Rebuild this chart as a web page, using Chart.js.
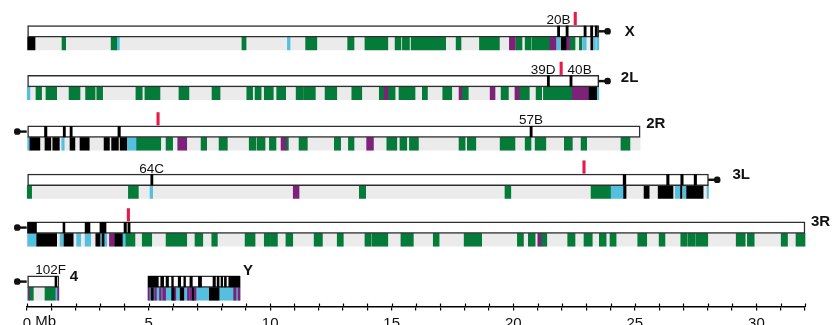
<!DOCTYPE html>
<html><head><meta charset="utf-8">
<script src="https://cdn.jsdelivr.net/npm/chart.js@4/dist/chart.umd.min.js"></script>
<style>html,body{margin:0;padding:0;background:#fff}#wrap{width:835px;height:325px}</style>
</head><body><div id="wrap"><canvas id="c" width="835" height="325"></canvas></div>
<script>
// ---------------- DATA (Mb) ----------------
const chromosomes = ['X','2L','2R','3L','3R','4','Y'];
const chromStart = [0,0,0,0,0,0,4.98];
const chromEnd = [23.52,23.52,25.22,28.03,32.0,1.31,8.76];
const centromereSide = ['right','right','left','right','left','left','none'];

const greenSegments = {
  'X': [[1.44,1.59],[3.46,3.69],[8.84,9.01],[11.46,11.92],[13.19,13.45],[13.90,14.84],[15.14,15.38],[15.44,15.73],[15.80,17.22],[17.65,17.85],[18.61,19.43],[20.12,20.36],[20.49,20.73],[20.77,21.51],[22.31,22.54],[22.72,22.82]],
  '2L': [[0.37,0.60],[0.78,1.22],[1.73,2.18],[2.41,2.80],[2.87,3.11],[4.48,4.74],[4.85,5.47],[6.25,6.66],[7.61,7.94],[9.04,9.28],[9.38,9.63],[9.76,10.13],[10.27,10.64],[11.07,11.37],[11.39,11.86],[12.26,12.74],[13.36,13.77],[14.49,14.69],[14.84,15.14],[15.30,15.96],[16.26,16.47],[17.10,17.47],[17.88,18.15],[19.50,19.80],[20.25,20.66],[20.94,21.17],[21.24,22.43]],
  '2R': [[4.51,5.50],[5.72,5.99],[7.16,7.39],[7.90,8.24],[9.14,9.42],[9.47,9.79],[9.97,10.24],[10.65,10.75],[11.19,11.53],[12.64,12.90],[13.22,13.45],[14.80,15.21],[15.34,15.62],[15.73,16.10],[17.77,18.02],[18.11,18.46],[19.46,20.07],[20.49,20.73],[20.90,21.34],[22.10,22.43],[22.79,23.02],[24.43,24.80]],
  '3L': [[0.01,0.19],[4.17,4.58],[13.67,13.93],[19.66,19.90],[23.20,24.00]],
  '3R': [[4.07,4.44],[4.74,5.13],[5.72,6.57],[6.91,7.23],[7.60,7.83],[8.97,9.38],[9.76,10.02],[10.04,10.30],[10.65,10.93],[11.81,12.15],[12.76,13.01],[13.90,14.14],[14.18,14.84],[15.38,15.89],[16.71,16.95],[17.98,18.70],[20.17,20.42],[20.62,20.90],[21.14,21.38],[22.24,22.54],[22.91,23.25],[23.54,23.82],[23.98,24.23],[25.12,25.49],[26.00,26.24],[26.89,27.16],[27.20,27.48],[27.51,28.00],[29.17,29.54],[29.63,29.91],[31.02,31.28],[31.63,32.00]],
  '4': [[0.09,0.26],[0.74,1.16]],
  'Y': []
};
const purpleSegments = {
  'X': [[19.84,20.09],[21.51,21.76],[22.17,22.31]],
  '2L': [[14.69,14.84],[17.77,17.88],[19.05,19.25],[20.07,20.25],[22.43,23.12]],
  '2R': [[6.20,6.57],[10.45,10.65],[13.97,14.25]],
  '3L': [[10.95,11.19]],
  '3R': [[3.39,3.62],[21.01,21.14]],
  '4': [[0.05,0.09],[1.26,1.31]],
  'Y': [[4.98,5.03],[5.25,5.32],[5.45,5.52],[5.58,5.70],[6.05,6.12],[6.60,6.68],[6.72,6.78],[6.85,6.95],[8.50,8.60],[8.68,8.76]]
};
const blueSegments = {
  'X': [[3.69,3.80],[10.71,10.82],[21.79,21.93],[22.86,23.00],[23.30,23.38],[23.43,23.52]],
  '2L': [[0.01,0.12],[23.43,23.52]],
  '2R': [[0.03,0.12],[1.43,1.53],[4.10,4.51]],
  '3L': [[5.06,5.17],[24.00,24.54],[26.66,26.86],[26.98,27.11],[27.97,28.03]],
  '3R': [[0,0.39],[1.36,1.49],[2.04,2.21],[2.39,2.62],[3.00,3.09],[3.17,3.28],[3.92,4.07]],
  '4': [[0,0.05],[1.16,1.26]],
  'Y': [[4.98,8.76]]
};
const blackSegments = {
  'X': [[0,0.33],[21.97,22.17],[23.19,23.27]],
  '2L': [[23.12,23.43]],
  '2R': [[0.12,0.53],[0.74,0.98],[1.06,1.33],[1.77,1.97],[2.18,2.56],[3.17,3.39],[3.48,3.76],[3.83,4.10]],
  '3L': [[24.54,24.64],[25.38,25.59],[25.96,26.57],[26.88,26.94],[27.13,27.81]],
  '3R': [[0.40,1.22],[1.52,1.90],[2.83,3.00],[3.09,3.17],[3.62,3.92]],
  '4': [],
  'Y': [[5.10,5.20],[5.95,6.05],[6.30,6.45],[6.80,6.85],[7.50,7.90]]
};
// cytological band marks drawn inside the chromosome outline
const boxBands = {
  'X': [[21.82,21.91],[22.17,22.26],[22.91,23.00],[23.18,23.27],[23.37,23.46]],
  '2L': [[21.40,21.49],[22.33,22.42]],
  '2R': [[0.72,0.82],[1.49,1.58],[1.77,1.86],[3.74,3.84],[20.69,20.78]],
  '3L': [[5.09,5.18],[24.52,24.63],[26.31,26.41],[26.89,26.99],[27.44,27.54]],
  '3R': [[0,0.39],[1.48,1.56],[2.39,2.59],[3.00,3.25],[3.99,4.09],[4.15,4.24]],
  '4': [[1.15,1.22]],
  'Y': [[4.98,5.40],[5.50,5.62],[5.72,5.82],[5.95,6.02],[6.22,6.32],[6.45,6.52],[6.70,6.80],[7.05,7.18],[7.65,7.75],[7.82,7.90],[7.98,8.05],[8.12,8.20],[8.30,8.76]]
};
const bandLabelChrom = ['X','2L','2L','2R','3L','4'];
const bandLabelText = ['20B','39D','40B','57B','64C','102F'];
const bandLabelPos = [21.86,21.23,22.73,20.73,5.13,0.97];
const redMarkChrom = ['X','2L','2R','3L','3R'];
const redMarkPos = [22.55,21.97,5.39,22.91,4.17];

// ---------------- LAYOUT / STYLE ----------------
const rowTop = {'X':25.5,'2L':75.3,'2R':125.8,'3L':174,'3R':221.8,'4':275.8,'Y':275.8};
const BOX_H = 11.6, TRACK_H = 12.8;
const boxY = c => rowTop[c] + BOX_H/2;
const trackY = c => rowTop[c] + BOX_H + TRACK_H/2;
const labelLayout = {'X':{dx:26,y:32},'2L':{dx:22,y:77.5},'2R':{dx:6,y:124.3},'3L':{dx:24,y:175},'3R':{dx:6,y:221.7},'4':{dx:11,y:277},'Y':{dx:3,y:271}};
const COLORS = {green:'#047b38', purple:'#7c2278', blue:'#55bfdf', black:'#000000', gray:'#ebebeb', red:'#e6194b', border:'#2e2e2e'};
const FONT = '"Liberation Sans", Arial, sans-serif';
const STALK = 0.36, DOT = 0.24, TICK_LEN = 3.5, TICK_PAD = 4;

function segs(obj, yf) {
  const out = [];
  chromosomes.forEach(c => (obj[c] || []).forEach(s => out.push({x:[s[0], s[1]], y: yf(c)})));
  return out;
}
const full = {}; chromosomes.forEach((c,i) => full[c] = [[chromStart[i], chromEnd[i]]]);

// centromere stalks and knobs, anchored on chromosome ends
const stalkData = [], knobData = [];
chromosomes.forEach((c,i) => {
  if (centromereSide[i] === 'right') {
    stalkData.push({x:[chromEnd[i], chromEnd[i] + STALK], y: boxY(c)});
    knobData.push({x:[chromEnd[i] + STALK - DOT/2, chromEnd[i] + STALK + DOT/2], y: boxY(c)});
  } else if (centromereSide[i] === 'left') {
    stalkData.push({x:[chromStart[i] - STALK - 0.04, chromStart[i]], y: boxY(c)});
    knobData.push({x:[chromStart[i] - STALK - 0.04 - DOT/2, chromStart[i] - STALK - 0.04 + DOT/2], y: boxY(c)});
  }
});

const barBase = {type:'bar', grouped:false, borderWidth:0, borderSkipped:false, clip:false};
const datasets = [
  Object.assign({}, barBase, {label:'track', data: segs(full, trackY), backgroundColor: COLORS.gray, barThickness: TRACK_H, order: 10}),
  Object.assign({}, barBase, {label:'blue', data: segs(blueSegments, trackY), backgroundColor: COLORS.blue, barThickness: TRACK_H, order: 9}),
  Object.assign({}, barBase, {label:'green', data: segs(greenSegments, trackY), backgroundColor: COLORS.green, barThickness: TRACK_H, order: 8}),
  Object.assign({}, barBase, {label:'purple', data: segs(purpleSegments, trackY), backgroundColor: COLORS.purple, barThickness: TRACK_H, order: 7}),
  Object.assign({}, barBase, {label:'black', data: segs(blackSegments, trackY), backgroundColor: COLORS.black, barThickness: TRACK_H, order: 6}),
  Object.assign({}, barBase, {label:'box', data: segs(full, boxY), backgroundColor: '#ffffff', borderColor: COLORS.border, borderWidth: 1.5, barThickness: BOX_H, order: 5}),
  Object.assign({}, barBase, {label:'bands', data: segs(boxBands, boxY), backgroundColor: '#000', barThickness: BOX_H - 1, order: 4}),
  Object.assign({}, barBase, {label:'red', data: redMarkChrom.map((c,i) => ({x:[redMarkPos[i]-0.05, redMarkPos[i]+0.05], y: rowTop[c]-7})), backgroundColor: COLORS.red, barThickness: 12.5, order: 3}),
  Object.assign({}, barBase, {label:'stalk', data: stalkData, backgroundColor: '#111', barThickness: 1.8, order: 2}),
  Object.assign({}, barBase, {label:'knob', data: knobData, backgroundColor: '#111', barThickness: 5.8, borderRadius: 3, order: 1}),
];

const textPlugin = {
  id: 'texts',
  afterDraw(chart) {
    const ctx = chart.ctx, xs = chart.scales.x, ys = chart.scales.y;
    ctx.save();
    // upper half of ruler ticks
    ctx.strokeStyle = '#000'; ctx.lineWidth = 1.2;
    xs.ticks.forEach(t => { const p = Math.round(xs.getPixelForValue(t.value)) + 0.5; ctx.beginPath(); ctx.moveTo(p, xs.top - 3.5); ctx.lineTo(p, xs.top); ctx.stroke(); });
    // unit after zero
    ctx.font = '15px ' + FONT; ctx.fillStyle = '#111'; ctx.textBaseline = 'top'; ctx.textAlign = 'left';
    const w0 = ctx.measureText('0').width;
    ctx.fillText(' Mb', xs.getPixelForValue(0) + w0/2, xs.top + TICK_LEN + TICK_PAD);
    // chromosome names
    ctx.font = 'bold 15px ' + FONT; ctx.textBaseline = 'middle';
    chromosomes.forEach((c,i) => ctx.fillText(c, xs.getPixelForValue(chromEnd[i]) + labelLayout[c].dx, ys.getPixelForValue(labelLayout[c].y)));
    // band names
    ctx.font = '13.5px ' + FONT; ctx.textBaseline = 'alphabetic'; ctx.textAlign = 'center';
    bandLabelText.forEach((t,i) => ctx.fillText(t, xs.getPixelForValue(bandLabelPos[i]), ys.getPixelForValue(rowTop[bandLabelChrom[i]] - 1.5)));
    ctx.restore();
  }
};

new Chart(document.getElementById('c'), {
  type: 'bar',
  data: { datasets },
  options: {
    indexAxis: 'y', responsive: false, animation: false, events: [],
    layout: { padding: { left: 27, right: 30, top: 0, bottom: 0 } },
    plugins: { legend: {display:false}, tooltip: {enabled:false} },
    scales: {
      y: { type:'linear', min:0, max:307, reverse:true, display:false, offset:false },
      x: { type:'linear', min:0, max:32, position:'bottom',
        afterFit: s => { s.height = 18; },
        border: { display:true, color:'#000', width:1.5 },
        grid: { display:true, drawOnChartArea:false, drawTicks:true, tickLength:TICK_LEN, color:'#000', lineWidth:1.2 },
        ticks: { stepSize:1, autoSkip:false, maxRotation:0, padding:TICK_PAD, color:'#111', font:{size:15, family: FONT},
          callback: v => (v % 5 === 0 ? String(v) : '') }
      }
    }
  },
  plugins: [textPlugin]
});
</script></body></html>
